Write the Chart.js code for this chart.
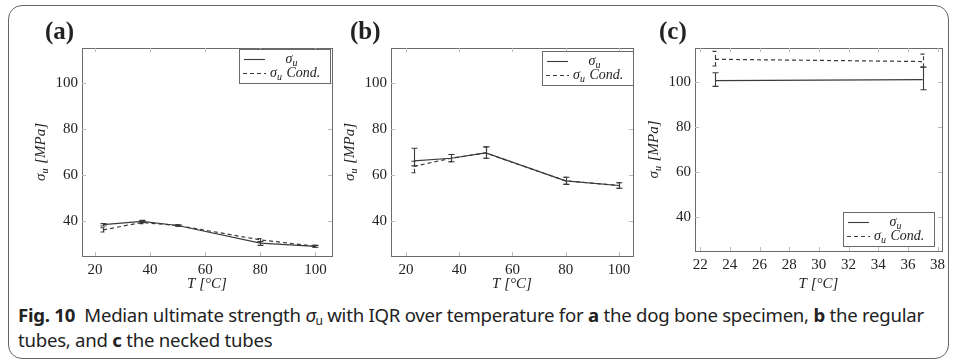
<!DOCTYPE html>
<html>
<head>
<meta charset="utf-8">
<script src="https://cdn.jsdelivr.net/npm/chart.js@4.4.0/dist/chart.umd.min.js"></script>
<style>
  body { margin: 0; width: 956px; height: 362px; background: #fff; position: relative; overflow: hidden; }
  #frame { position: absolute; left: 8px; top: 5px; width: 941px; height: 354px; border: 1.5px solid #666; border-radius: 14px; box-sizing: border-box; }
  canvas { position: absolute; top: 0; }
  #cap { position: absolute; left: 18px; top: 302px; font-family: 'Noto Sans'; font-size: 18.6px; line-height: 25px; color: #222; white-space: nowrap; letter-spacing: -0.25px; }
  #cap sub { font-size: 12px; vertical-align: -3px; line-height: 0; }
</style>
</head>
<body>
<div id="frame"></div>
<canvas id="chartA" width="340" height="300" style="left:0px"></canvas>
<canvas id="chartB" width="300" height="300" style="left:340px"></canvas>
<canvas id="chartC" width="316" height="300" style="left:640px"></canvas>
<div id="cap"><b>Fig. 10</b>&nbsp; Median ultimate strength <i>σ</i><sub>u</sub> with IQR over temperature for <b>a</b> the dog bone specimen, <b>b</b> the regular<br>tubes, and <b>c</b> the necked tubes</div>

<script>
// temperatures [°C]
const tempAB = [23, 37, 50, 80, 100];
const tempC = [23, 37];

// (a) dog bone specimen: median and IQR bounds [MPa]
const aMedian = [38.6, 40.0, 38.2, 30.6, 29.2];
const aLow = [38.0, 39.5, 37.8, 29.6, 28.8];
const aHigh = [39.0, 40.4, 38.5, 31.3, 29.6];
const aCondMedian = [36.3, 39.5, 38.2, 32.0, 29.2];
const aCondLow = [35.4, 39.0, 37.8, 31.0, 28.8];
const aCondHigh = [37.2, 40.2, 38.6, 32.6, 29.6];

// (b) regular tubes
const bMedian = [66.2, 67.3, 69.6, 57.5, 55.5];
const bLow = [64.0, 65.8, 67.3, 56.0, 54.3];
const bHigh = [71.6, 68.9, 72.2, 59.1, 56.7];
const bCondMedian = [63.8, 67.3, 69.6, 57.5, 55.5];
const bCondLow = [61.0, 65.8, 67.3, 56.0, 54.3];
const bCondHigh = [66.0, 68.9, 72.2, 59.1, 56.7];

// (c) necked tubes
const cMedian = [100.5, 101.0];
const cLow = [98.0, 96.5];
const cHigh = [104.0, 106.5];
const cCondMedian = [110.0, 109.0];
const cCondLow = [107.0, 106.5];
const cCondHigh = [113.5, 112.3];

const yTicks = [40, 60, 80, 100];
const xTicksAB = [20, 40, 60, 80, 100];
const xTicksC = [22, 24, 26, 28, 30, 32, 34, 36, 38];

const LINE = '#3a3a3a';
const AXIS = '#6a6a6a';
const SERIF = '"Liberation Serif", "DejaVu Serif", serif';

// draws italic sigma with subscript u followed by some text
function sigmaText(ctx, x, y, rest, size, align) {
  const sub = Math.round(size * 0.68);
  ctx.font = 'italic ' + size + 'px ' + SERIF;
  const w1 = ctx.measureText('σ').width;
  const w3 = ctx.measureText(rest).width;
  ctx.font = 'italic ' + sub + 'px ' + SERIF;
  const w2 = ctx.measureText('u').width + 1;
  const total = w1 + w2 + w3;
  let x0 = x;
  if (align === 'center') x0 = x - total / 2;
  ctx.textAlign = 'left';
  ctx.textBaseline = 'alphabetic';
  ctx.font = 'italic ' + size + 'px ' + SERIF;
  ctx.fillText('σ', x0, y);
  ctx.font = 'italic ' + sub + 'px ' + SERIF;
  ctx.fillText('u', x0 + w1, y + size * 0.22);
  ctx.font = 'italic ' + size + 'px ' + SERIF;
  ctx.fillText(rest, x0 + w1 + w2, y);
  return total;
}

const deco = {
  id: 'deco',
  beforeDatasetsDraw(chart) {
    const ctx = chart.ctx;
    const a = chart.chartArea;
    const xs = chart.scales.x, ys = chart.scales.y;
    ctx.save();
    ctx.strokeStyle = AXIS;
    ctx.lineWidth = 1;
    ctx.strokeRect(a.left + 0.5, a.top + 0.5, a.width, a.height);
    ctx.beginPath();
    xs.ticks.forEach(t => {
      const px = Math.round(xs.getPixelForValue(t.value)) + 0.5;
      ctx.moveTo(px, a.bottom); ctx.lineTo(px, a.bottom - 4);
      ctx.moveTo(px, a.top); ctx.lineTo(px, a.top + 4);
    });
    ys.ticks.forEach(t => {
      const py = Math.round(ys.getPixelForValue(t.value)) + 0.5;
      ctx.moveTo(a.left, py); ctx.lineTo(a.left + 4, py);
      ctx.moveTo(a.right, py); ctx.lineTo(a.right - 4, py);
    });
    ctx.strokeStyle = '#bbb';
    ctx.stroke();
    ctx.restore();
  },
  afterDatasetsDraw(chart, args, opts) {
    const ctx = chart.ctx;
    const a = chart.chartArea;
    const xs = chart.scales.x, ys = chart.scales.y;
    ctx.save();
    // error bars
    chart.data.datasets.forEach(ds => {
      ctx.strokeStyle = LINE;
      ctx.lineWidth = 1.1;
      ctx.setLineDash(ds.borderDash || []);
      ds.data.forEach((p, i) => {
        const px = Math.round(xs.getPixelForValue(p.x)) + 0.5;
        const yl = ys.getPixelForValue(ds.lo[i]);
        const yh = ys.getPixelForValue(ds.hi[i]);
        ctx.beginPath();
        ctx.moveTo(px, yl); ctx.lineTo(px, yh);
        ctx.moveTo(px - 3, yl); ctx.lineTo(px + 3, yl);
        ctx.moveTo(px - 3, yh); ctx.lineTo(px + 3, yh);
        ctx.stroke();
      });
    });
    ctx.setLineDash([]);

    // legend box
    const bw = 91, bh = 34;
    const bx = a.right - opts.legRight - bw;
    const by = opts.legBottom != null ? a.bottom - opts.legBottom - bh : a.top + opts.legTop;
    ctx.fillStyle = '#fff';
    ctx.fillRect(bx, by, bw, bh);
    ctx.strokeStyle = AXIS;
    ctx.lineWidth = 1;
    ctx.strokeRect(bx + 0.5, by + 0.5, bw, bh);
    ctx.strokeStyle = LINE;
    ctx.lineWidth = 1.1;
    ctx.beginPath(); ctx.moveTo(bx + 5, by + 10.5); ctx.lineTo(bx + 26, by + 10.5); ctx.stroke();
    ctx.setLineDash([4, 3]);
    ctx.beginPath(); ctx.moveTo(bx + 4, by + 24.5); ctx.lineTo(bx + 27, by + 24.5); ctx.stroke();
    ctx.setLineDash([]);
    ctx.fillStyle = '#222';
    sigmaText(ctx, bx + 53, by + 14, '', 14, 'center');
    sigmaText(ctx, bx + 31, by + 28, ' Cond.', 14, 'left');

    // axis titles
    ctx.fillStyle = '#222';
    ctx.font = 'italic 15px ' + SERIF;
    ctx.textAlign = 'center';
    ctx.textBaseline = 'alphabetic';
    ctx.fillText('T [°C]', (a.left + a.right) / 2, a.bottom + 32 + opts.xTitleShift);
    ctx.save();
    ctx.translate(a.left - 37, (a.top + a.bottom) / 2);
    ctx.rotate(-Math.PI / 2);
    sigmaText(ctx, 0, 0, ' [MPa]', 15, 'center');
    ctx.restore();

    // panel label
    ctx.font = 'bold 25px ' + SERIF;
    ctx.textAlign = 'left';
    ctx.fillText(opts.label, opts.labelX, 39);
    ctx.restore();
  }
};

function series(xs, ys) {
  return xs.map((t, i) => ({ x: t, y: ys[i] }));
}

function makePanel(id, p) {
  return new Chart(document.getElementById(id), {
    type: 'line',
    data: {
      datasets: [
        { label: 'σu', data: series(p.temps, p.med), lo: p.lo, hi: p.hi,
          borderColor: LINE, borderWidth: 1.2, pointRadius: 0, tension: 0, fill: false },
        { label: 'σu Cond.', data: series(p.temps, p.condMed), lo: p.condLo, hi: p.condHi,
          borderColor: LINE, borderWidth: 1.2, borderDash: [4, 3], pointRadius: 0, tension: 0, fill: false }
      ]
    },
    options: {
      responsive: false,
      animation: false,
      layout: { padding: { left: 0, top: 48, right: p.padRight, bottom: 0 } },
      plugins: {
        legend: { display: false },
        tooltip: { enabled: false },
        deco: p.deco
      },
      scales: {
        x: {
          type: 'linear', min: p.xMin, max: p.xMax,
          afterBuildTicks: s => { s.ticks = p.xTicks.map(v => ({ value: v })); },
          afterFit: s => { s.height = p.xAxisH; },
          grid: { display: false, drawTicks: false },
          border: { display: false },
          ticks: { font: { family: SERIF, size: 15 }, color: '#222', padding: 5 }
        },
        y: {
          type: 'linear', min: 25, max: 115,
          afterBuildTicks: s => { s.ticks = yTicks.map(v => ({ value: v })); },
          afterFit: s => { s.width = p.yAxisW; },
          grid: { display: false, drawTicks: false },
          border: { display: false },
          ticks: { font: { family: SERIF, size: 15 }, color: '#222', padding: 4 }
        }
      }
    },
    plugins: [deco]
  });
}

makePanel('chartA', {
  temps: tempAB, med: aMedian, lo: aLow, hi: aHigh,
  condMed: aCondMedian, condLo: aCondLow, condHi: aCondHigh,
  xMin: 15.3, xMax: 106, xTicks: xTicksAB,
  padRight: 8, yAxisW: 82, xAxisH: 44,
  deco: { label: '(a)', labelX: 45, legRight: 2, legTop: 1, xTitleShift: 0 }
});

makePanel('chartB', {
  temps: tempAB, med: bMedian, lo: bLow, hi: bHigh,
  condMed: bCondMedian, condLo: bCondLow, condHi: bCondHigh,
  xMin: 14.4, xMax: 105.3, xTicks: xTicksAB,
  padRight: 7, yAxisW: 51, xAxisH: 44,
  deco: { label: '(b)', labelX: 10, legRight: 0, legTop: 3, xTitleShift: 0 }
});

makePanel('chartC', {
  temps: tempC, med: cMedian, lo: cLow, hi: cHigh,
  condMed: cCondMedian, condLo: cCondLow, condHi: cCondHigh,
  xMin: 21.65, xMax: 38.3, xTicks: xTicksC,
  padRight: 14, yAxisW: 55, xAxisH: 49,
  deco: { label: '(c)', labelX: 19, legRight: 8, legBottom: 5, xTitleShift: 5 }
});
</script>
</body>
</html>
